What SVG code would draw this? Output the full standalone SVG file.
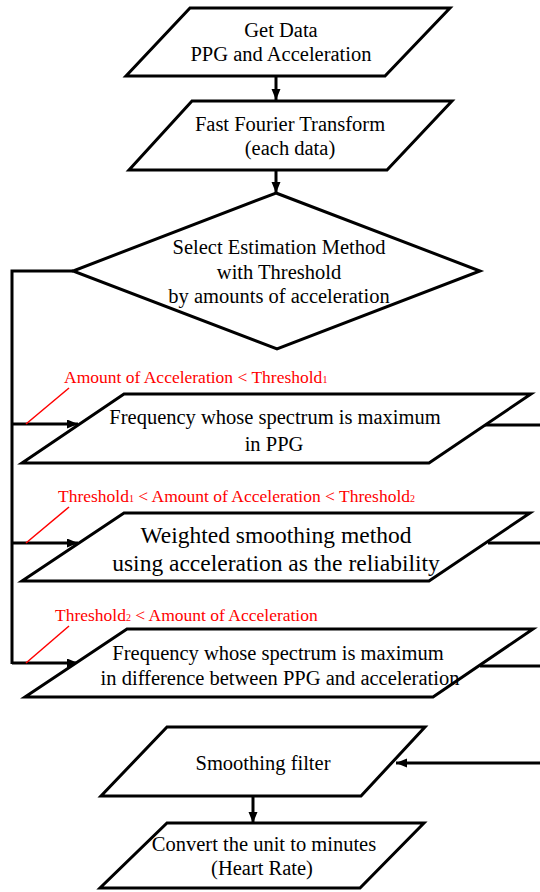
<svg xmlns="http://www.w3.org/2000/svg" width="540" height="892" viewBox="0 0 540 892" font-family="Liberation Serif">
<style>
.shape{fill:#fff;stroke:#000;stroke-width:3;stroke-linejoin:miter}
.con{fill:none;stroke:#000;stroke-width:3}
.slash{fill:none;stroke:#ff0000;stroke-width:1.5}
.t{font-size:20.5px;fill:#000;text-anchor:middle}
.big{font-size:23.5px}
.red{font-size:17.5px;fill:#ff0000}
.sub{font-size:10px}
</style>
<defs>
<marker id="ah" markerUnits="userSpaceOnUse" markerWidth="12" markerHeight="10" refX="11" refY="4.5" orient="auto">
<path d="M0,0 L11,4.5 L0,9 z" fill="#000"/>
</marker>
</defs>
<rect width="540" height="892" fill="#fff"/>
<g id="connectors" font-family="Liberation Serif">
<line class="con" x1="276" y1="76" x2="276" y2="100" marker-end="url(#ah)"/>
<line class="con" x1="276" y1="170" x2="276" y2="193" marker-end="url(#ah)"/>
<polyline class="con" points="73,271 12,271 12,664"/>
<line class="con" x1="12" y1="424" x2="78" y2="424" marker-end="url(#ah)"/>
<line class="con" x1="12" y1="543" x2="78" y2="543" marker-end="url(#ah)"/>
<line class="con" x1="12" y1="663" x2="78" y2="663" marker-end="url(#ah)"/>
<line class="con" x1="485" y1="425" x2="540" y2="425"/>
<line class="con" x1="488" y1="543" x2="540" y2="543"/>
<line class="con" x1="480" y1="666" x2="540" y2="666"/>
<line class="con" x1="540" y1="763" x2="396" y2="763" marker-end="url(#ah)"/>
<line class="con" x1="253" y1="796" x2="253" y2="823" marker-end="url(#ah)"/>
<line class="slash" x1="26" y1="424" x2="69" y2="388"/>
<line class="slash" x1="26" y1="543" x2="69" y2="507"/>
<line class="slash" x1="26" y1="663" x2="69" y2="626"/>
<text class="red" x="64" y="383" font-family="Liberation Serif">Amount of Acceleration &lt; Threshold<tspan class="sub">1</tspan></text>
<text class="red" x="58" y="502" font-family="Liberation Serif">Threshold<tspan class="sub">1</tspan> &lt; Amount of Acceleration &lt; Threshold<tspan class="sub">2</tspan></text>
<text class="red" x="55" y="621" font-family="Liberation Serif">Threshold<tspan class="sub">2</tspan> &lt; Amount of Acceleration</text>
</g>
<g id="get-data" font-family="Liberation Serif">
<polygon class="shape" points="190,8 450,8 385,76 126,76"/>
<text class="t" x="281" y="37">Get Data</text>
<text class="t" x="281" y="61">PPG and Acceleration</text>
</g>
<g id="fft" font-family="Liberation Serif">
<polygon class="shape" points="192,101 452,101 387,170 129,170"/>
<text class="t" x="290" y="131">Fast Fourier Transform</text>
<text class="t" x="290" y="155">(each data)</text>
</g>
<g id="select" font-family="Liberation Serif">
<polygon class="shape" points="276,193 480,271 277,349 73,271"/>
<text class="t" x="279" y="254">Select Estimation Method</text>
<text class="t" x="279" y="279">with Threshold</text>
<text class="t" x="279" y="303">by amounts of acceleration</text>
</g>
<g id="freq-ppg" font-family="Liberation Serif">
<polygon class="shape" points="124,394 531,394 429,463 22,463"/>
<text class="t" x="275" y="424">Frequency whose spectrum is maximum</text>
<text class="t" x="274" y="451">in PPG</text>
</g>
<g id="weighted" font-family="Liberation Serif">
<polygon class="shape" points="124,513 530,513 429,581 22,581"/>
<text class="t big" x="276" y="543">Weighted smoothing method</text>
<text class="t big" x="276" y="571">using acceleration as the reliability</text>
</g>
<g id="freq-diff" font-family="Liberation Serif">
<polygon class="shape" points="127,629 533,629 433,697 25,697"/>
<text class="t" x="278" y="660">Frequency whose spectrum is maximum</text>
<text class="t" x="280" y="685">in difference between PPG and acceleration</text>
</g>
<g id="smoothing" font-family="Liberation Serif">
<polygon class="shape" points="167,727 425,727 361,796 101,796"/>
<text class="t" x="263" y="770">Smoothing filter</text>
</g>
<g id="convert" font-family="Liberation Serif">
<polygon class="shape" points="167,823 424,823 360,888 100,888"/>
<text class="t" x="264" y="851">Convert the unit to minutes</text>
<text class="t" x="262" y="875">(Heart Rate)</text>
</g>
</svg>
